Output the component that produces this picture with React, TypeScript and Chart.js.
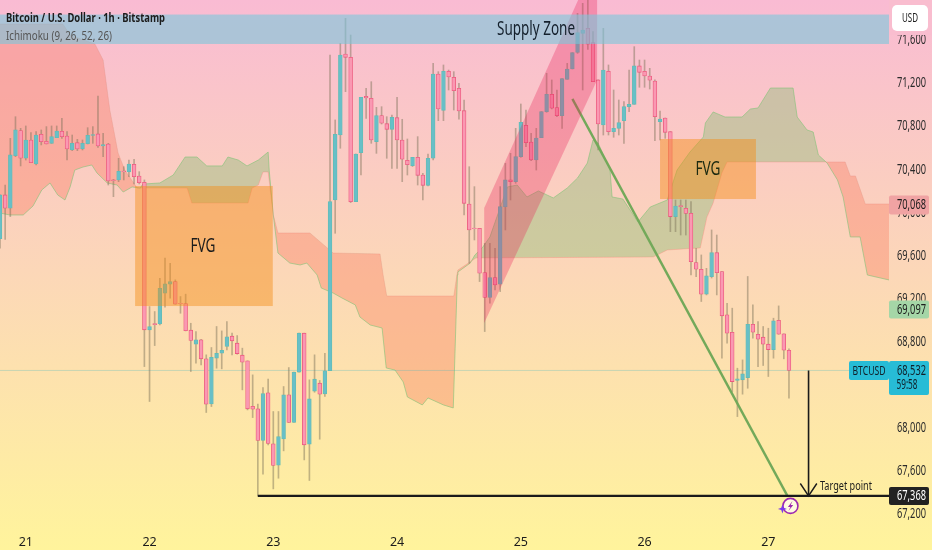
import React, { useEffect, useRef } from "react";
import { Chart, registerables } from "chart.js";

Chart.register(...registerables);

const firstHour = -5;
const opens = [69755,70161,70037,70526,70758,70501,70671,70448,70724,70659,70640,70693,70751,70708,70578,70646,70587,70637,70714,70727,70615,70634,70300,70300,70383,70374,70445,70337,70278,68909,68967,68964,69249,69332,69357,69156,69153,68906,68776,68816,68640,68222,68646,68692,68754,68850,68785,68674,68621,68200,68176,67882,68324,67851,67653,67897,68306,68049,68516,68878,67848,68340,68414,68315,68531,70114,70717,71469,71438,70099,70553,71076,71058,70655,70897,70822,70770,70878,70671,70482,70433,70510,70346,70250,70501,71283,70946,71308,71252,71150,70943,70077,69854,69851,69440,69209,69394,69332,70052,70300,70284,70516,70807,70652,70485,70693,70934,71095,70971,70897,71234,71330,71484,71661,71707,71574,71228,70810,71308,70748,70779,70850,70980,71002,71358,71308,71265,71218,70841,70875,70748,69960,70062,70037,69990,69533,69471,69240,69403,69625,69449,69048,68887,68439,68445,68466,68961,68868,68841,68776,68726,68998,68872,68720];
const highs = [70161,70253,70686,70887,70779,70801,70739,70748,70764,70795,70801,70801,70872,70748,70717,70677,70671,70785,70795,71079,70733,70640,70306,70501,70423,70485,70492,70377,70300,69125,69079,69388,69574,69527,69373,69218,69240,68970,68893,68822,68677,68745,68940,68899,68986,68878,68856,68739,68621,68491,68219,68374,68451,68151,68151,68383,68559,68516,68878,68878,68445,68677,68439,68692,71460,70857,71568,71800,71645,70541,71067,71150,71212,70974,70980,70887,70903,71067,70863,70680,70510,70702,70362,70541,71382,71305,71367,71320,71305,71197,71042,70423,70238,69851,69712,69712,69666,70238,70454,70547,70779,71005,70949,70733,70779,70934,71290,71228,71135,71240,71382,71481,71846,71939,71970,71676,71228,71707,71367,71135,71042,71027,71320,71537,71413,71413,71336,71228,70940,70875,70748,70114,70114,70114,70099,69666,69604,69480,69836,69789,69449,69156,69110,68553,68630,69404,69141,68986,68940,68924,69017,69131,68872,68732];
const lows = [69666,69749,69960,70516,70430,70485,70461,70439,70625,70634,70640,70693,70686,70485,70572,70572,70578,70634,70640,70603,70516,70253,70145,70284,70300,70331,70263,70263,68568,68244,68763,68955,69119,69202,69147,69063,68899,68522,68599,68584,68142,68197,68553,68547,68723,68677,68683,68352,68166,68095,67368,67569,67842,67433,67532,67786,68049,68049,68516,67702,67511,68330,67894,68290,68531,69805,70594,71119,70090,70099,70346,70872,70640,70547,70819,70501,70408,70408,70284,70346,70425,70253,70114,70244,70485,70850,70850,71135,70949,70863,69975,69527,69743,69357,68893,69156,69280,69264,69836,70114,70269,70510,70609,70479,70392,70693,70928,70959,70887,70779,71234,71330,71475,71135,71512,71212,70578,70717,70717,70696,70717,70640,70934,71002,71160,71160,71144,70665,70671,70686,69820,69820,69789,69789,69418,69403,69172,69233,69390,69233,68646,68785,68336,68104,68312,68367,68831,68568,68578,68476,68646,68868,68640,68275];
const closes = [70161,70037,70532,70764,70501,70671,70461,70717,70655,70634,70702,70754,70702,70587,70640,70587,70640,70714,70720,70615,70628,70291,70294,70380,70377,70448,70331,70275,68909,68940,68958,69295,69335,69357,69147,69150,68902,68810,68816,68640,68219,68655,68692,68720,68844,68807,68689,68609,68176,68173,67882,68318,67854,67650,67919,68306,68049,68516,68878,67842,68268,68451,68312,68528,70099,70724,71460,71438,70099,70541,71067,71061,70671,70897,70826,70770,70881,70671,70492,70442,70510,70343,70250,70501,71283,70959,71308,71256,71129,70940,70083,69836,69848,69434,69209,69394,69326,70052,70300,70284,70516,70835,70646,70485,70689,70934,71095,70965,70897,71240,71330,71481,71667,71692,71559,71212,70819,71320,70748,70779,70832,70980,71002,71358,71299,71265,71225,70887,70866,70742,69960,70058,70052,69990,69542,69471,69240,69410,69625,69440,69039,68878,68429,68454,68500,68961,68887,68822,68776,68726,68992,68868,68720,68532];

const spanAHours = [-5,-3.1,-0.5,1.4,3.1,4.7,6.2,7.6,8.6,9.5,11.1,12.8,13.8,15.8,17.7,18.9,20.6,22.2,22.7,26,28.6,30.9,33.2,35.1,38.1,39.2,41.2,42.9,45.1,47,47.2,48,48.9,51.2,53.2,54.5,56.5,57.3,59.6,61.3,63.9,64.8,66.8,69.1,69.9,71.6,73.2,74,76.9,78,81,82.9,83.6,83.7,83.8,86.2,87.1,88.5,90,93.4,95.3,97.2,99.4,102.3,105,107,108.9,110,111,113.3,113.7,115.8,118.7,121.1,124.4,126.3,128.8,131.4,131.8,133.3,135.6,138.9,140.5,142,144.4,148.8,149.6,151.5,152.7,153.7,155.4,157.4,158.5,159.9,161.8,163.2,167.4];
const spanAValues = [69993,69975,69975,70058,70207,70272,70160,70114,70235,70392,70420,70439,70365,70272,70253,70188,70235,70225,70262,70272,70346,70513,70513,70430,70430,70513,70485,70430,70485,70559,70392,69975,69622,69529,69511,69529,69418,69297,69251,69205,69140,69028,68954,68926,68555,68536,68425,68286,68212,68277,68212,68184,69260,69418,69446,69529,69604,69669,69771,70235,70253,70142,70198,70133,70225,70318,70457,70671,70643,70392,70142,70123,69910,70049,70114,70392,70559,70699,70829,70931,70884,70884,70958,70968,71153,71153,70884,70764,70745,70532,70457,70300,70142,69771,69771,69418,69372];
const spanBHours = [-5,7.2,8.6,13.4,15,16.3,17.9,19.2,21.6,22.7,31.3,32.2,43.1,43.9,45.1,46,47,48,48.9,55.1,59.6,68.7,69.3,70,83,83.6,83.8,87.3,121.7,124.4,130.8,132.1,133.3,135,136,158.9,159.9,160.9,162.8,167.4];
const spanBValues = [71747,71747,71645,71562,71413,70949,70550,70392,70225,70225,70225,70086,70086,70225,70253,70374,70374,69975,69808,69808,69622,69613,69418,69223,69223,69418,69464,69576,69585,69650,69669,69956,70086,70365,70467,70467,70337,70337,70077,70077];

const dayHours = [0, 24, 48, 72, 96, 120, 144];
const dayLabels = ["21", "22", "23", "24", "25", "26", "27"];
const priceTicks = [71600,71200,70800,70400,70000,69600,69200,68800,68400,68000,67600,67200];

const lastPrice = 68532;
const targetPrice = 67368;
const trendHours = [106, 147.7];
const trendPrices = [71052, 67368];
const arrowHour = 151.8;
const fvgZones = [
  { from: 21.2, to: 47.9, top: 70244, bottom: 69130 },
  { from: 123, to: 141.6, top: 70680, bottom: 70123 },
];
const supplyZone = { from: -5, to: 167.4, top: 71835, bottom: 71562 };
const channelHours = [88.9, 110.8, 110.8, 88.9];
const channelPrices = [70040, 72360, 71228, 68973];

const TEXT_FONT = '"Noto Sans", sans-serif';

const candleHours = opens.map((_, i) => firstHour + i);
const isUp = opens.map((o, i) => closes[i] >= o);

const overlay = {
  id: "overlay",
  beforeDraw(chart: any) {
    const { ctx, width, height } = chart;
    const g = ctx.createLinearGradient(0, 0, 0, height);
    g.addColorStop(0, "#f9bbd3");
    g.addColorStop(1, "#fff49c");
    ctx.save();
    ctx.fillStyle = g;
    ctx.fillRect(0, 0, width, height);
    ctx.restore();
  },
  afterDatasetsDraw(chart: any) {
    const { ctx, chartArea: a } = chart;
    const X = (h: number) => chart.scales.x.getPixelForValue(h);
    const Y = (p: number) => chart.scales.y.getPixelForValue(p);
    ctx.save();
    ctx.beginPath();
    ctx.rect(a.left, 0, a.right - a.left, a.bottom);
    ctx.clip();
    ctx.fillStyle = "rgba(233,30,85,0.3)";
    ctx.beginPath();
    channelHours.forEach((h, i) => {
      if (i === 0) ctx.moveTo(X(h), Y(channelPrices[i]));
      else ctx.lineTo(X(h), Y(channelPrices[i]));
    });
    ctx.closePath();
    ctx.fill();
    ctx.fillStyle = "rgba(245,140,20,0.45)";
    fvgZones.forEach((z) => {
      ctx.fillRect(X(z.from), Y(z.top), X(z.to) - X(z.from), Y(z.bottom) - Y(z.top));
    });
    ctx.fillStyle = "rgba(120,200,220,0.6)";
    ctx.fillRect(X(supplyZone.from), Y(supplyZone.top), X(supplyZone.to) - X(supplyZone.from), Y(supplyZone.bottom) - Y(supplyZone.top));
    ctx.restore();
  },
  afterDraw(chart: any) {
    const { ctx } = chart;
    const Y = (p: number) => chart.scales.y.getPixelForValue(p);
    const X = (h: number) => chart.scales.x.getPixelForValue(h);
    const text = (s: string, x: number, y: number, font: string, color: string, maxW: number, align: any = "left") => {
      ctx.font = font;
      ctx.fillStyle = color;
      ctx.textAlign = align;
      ctx.textBaseline = "middle";
      ctx.fillText(s, x, y, maxW);
    };
    const box = (x: number, y: number, w: number, h: number, c: string, r = 2) => {
      ctx.fillStyle = c;
      ctx.beginPath();
      ctx.roundRect(x, y, w, h, r);
      ctx.fill();
    };
    ctx.save();
    priceTicks.forEach((p) => {
      text(p.toLocaleString("en-US"), 897, Y(p) + 0.5, `13.5px ${TEXT_FONT}`, "#2a2a2a", 29);
    });
    text("Bitcoin / U.S. Dollar · 1h · Bitstamp", 6, 18, `bold 13px ${TEXT_FONT}`, "#1c1c1c", 159);
    text("Ichimoku (9, 26, 52, 26)", 6, 36, `13px ${TEXT_FONT}`, "#555555", 106);
    text("Supply Zone", 536, 30, `19px ${TEXT_FONT}`, "#14202c", 78, "center");
    text("FVG", 203, 246, `20px ${TEXT_FONT}`, "#1c1c1c", 25, "center");
    text("FVG", 708, 169, `20px ${TEXT_FONT}`, "#1c2a10", 25, "center");
    text("Target point", 820, 486, `12.5px ${TEXT_FONT}`, "#1c1c1c", 52);

    box(889, 0, 43, 35, "#f9bdcf", 0);
    box(892, 5, 36, 26, "#ffffff", 5);
    text("USD", 910, 18, `13px ${TEXT_FONT}`, "#1c1c1c", 16, "center");

    box(889, Y(70068) - 9.5, 40, 19, "#f0a3a3");
    text("70,068", 911.5, Y(70068) + 0.5, `13.5px ${TEXT_FONT}`, "#1c1c1c", 29, "center");
    box(889, Y(69097) - 9, 40, 18, "#a5d6a7");
    text("69,097", 911.5, Y(69097) + 0.5, `13.5px ${TEXT_FONT}`, "#1c1c1c", 29, "center");

    box(849, Y(lastPrice) - 9.5, 40, 19, "#27bcd6");
    text("BTCUSD", 869, Y(lastPrice) + 0.5, `13px ${TEXT_FONT}`, "#10202a", 33, "center");
    box(889, Y(lastPrice) - 9.5, 40, 34, "#27bcd6");
    text("68,532", 911.5, Y(lastPrice) + 0.5, `13.5px ${TEXT_FONT}`, "#10202a", 29, "center");
    text("59:58", 907, Y(lastPrice) + 15, `13.5px ${TEXT_FONT}`, "#10202a", 21, "center");

    box(889, Y(targetPrice) - 9, 40, 18, "#222222");
    text("67,368", 911.5, Y(targetPrice) + 0.5, `13.5px ${TEXT_FONT}`, "#ffffff", 29, "center");

    const cx = X(147.8) + 2.5;
    const cy = Y(targetPrice) + 10;
    ctx.fillStyle = "#fffbe0";
    ctx.strokeStyle = "#9c27b0";
    ctx.lineWidth = 1.6;
    ctx.beginPath();
    ctx.arc(cx, cy, 7.5, 0, Math.PI * 2);
    ctx.fill();
    ctx.stroke();
    ctx.fillStyle = "#9c27b0";
    ctx.beginPath();
    ctx.moveTo(cx + 2, cy - 5);
    ctx.lineTo(cx - 2.5, cy + 1);
    ctx.lineTo(cx, cy + 1);
    ctx.lineTo(cx - 2, cy + 5);
    ctx.lineTo(cx + 2.8, cy - 1);
    ctx.lineTo(cx + 0.3, cy - 1);
    ctx.closePath();
    ctx.fill();
    const sx = cx - 8;
    const sy = cy + 3;
    ctx.fillStyle = "#7c3aed";
    ctx.beginPath();
    ctx.moveTo(sx, sy - 4.5);
    ctx.lineTo(sx + 1.2, sy - 1.2);
    ctx.lineTo(sx + 4.5, sy);
    ctx.lineTo(sx + 1.2, sy + 1.2);
    ctx.lineTo(sx, sy + 4.5);
    ctx.lineTo(sx - 1.2, sy + 1.2);
    ctx.lineTo(sx - 4.5, sy);
    ctx.lineTo(sx - 1.2, sy - 1.2);
    ctx.closePath();
    ctx.fill();
    ctx.restore();
  },
};

const lineBase = { type: "line", pointRadius: 0, tension: 0, fill: false };

export default function App() {
  const ref = useRef<HTMLCanvasElement>(null);
  useEffect(() => {
    document.body.style.margin = "0";
    const chart = new Chart(ref.current as any, {
      type: "bar",
      data: {
        datasets: [
          {
            ...lineBase,
            label: "Senkou A",
            data: spanAHours.map((x, i) => ({ x, y: spanAValues[i] })),
            borderColor: "rgba(130,195,120,0.6)",
            borderWidth: 1,
            fill: { target: "+1", above: "rgba(129,187,112,0.38)", below: "rgba(250,103,73,0.3)" },
            order: 20,
          },
          {
            ...lineBase,
            label: "Senkou B",
            data: spanBHours.map((x, i) => ({ x, y: spanBValues[i] })),
            borderColor: "rgba(240,120,110,0.25)",
            borderWidth: 1,
            order: 19,
          },
          {
            ...lineBase,
            label: "Last",
            data: [{ x: firstHour, y: lastPrice }, { x: 167.4, y: lastPrice }],
            borderColor: "rgba(60,180,190,0.28)",
            borderWidth: 1,
            order: 15,
          },
          {
            label: "Wick",
            data: candleHours.map((x, i) => ({ x, y: [lows[i], highs[i]] })),
            backgroundColor: "rgba(125,115,90,0.48)",
            barThickness: 1,
            grouped: false,
            order: 5,
          },
          {
            label: "Body",
            data: candleHours.map((x, i) => ({ x, y: [opens[i], closes[i]] })),
            backgroundColor: isUp.map((u) => (u ? "#68bfc8" : "#fa98b2")),
            borderColor: isUp.map((u) => (u ? "#62bdb4" : "#ec5a7e")),
            borderWidth: 0.8,
            borderSkipped: false,
            barThickness: 3.8,
            grouped: false,
            order: 4,
          },
          {
            ...lineBase,
            label: "Trend",
            data: trendHours.map((x, i) => ({ x, y: trendPrices[i] })),
            borderColor: "#73a95a",
            borderWidth: 2.4,
            order: 3,
          },
          {
            ...lineBase,
            label: "Target",
            data: [{ x: 45, y: targetPrice }, { x: 167.4, y: targetPrice }],
            borderColor: "#1a1a1a",
            borderWidth: 2.2,
            order: 2,
          },
          {
            ...lineBase,
            label: "Arrow",
            data: [{ x: arrowHour, y: lastPrice }, { x: arrowHour, y: targetPrice }],
            borderColor: "#1a1a1a",
            borderWidth: 1.6,
            order: 1,
          },
          {
            ...lineBase,
            label: "Arrow head",
            data: [
              { x: arrowHour - 1.6, y: targetPrice + 115 },
              { x: arrowHour, y: targetPrice },
              { x: arrowHour + 1.6, y: targetPrice + 115 },
            ],
            borderColor: "#1a1a1a",
            borderWidth: 1.4,
            order: 1,
          },
        ] as any,
      },
      options: {
        responsive: false,
        animation: false,
        devicePixelRatio: 1,
        layout: { padding: 0, autoPadding: false },
        plugins: { legend: { display: false }, tooltip: { enabled: false }, title: { display: false } },
        scales: {
          x: {
            type: "linear",
            min: firstHour,
            max: 167.4,
            offset: false,
            grid: { display: false },
            border: { display: false },
            afterBuildTicks: (s: any) => {
              s.ticks = dayHours.map((value) => ({ value }));
            },
            afterFit: (s: any) => {
              s.height = 29;
            },
            ticks: {
              autoSkip: false,
              maxRotation: 0,
              padding: 6,
              color: "#1c1c1c",
              font: { family: TEXT_FONT, size: 12.5 },
              callback: (v: any) => dayLabels[dayHours.indexOf(Number(v))] ?? "",
            },
          },
          y: {
            type: "linear",
            position: "right",
            min: 67135,
            max: 71970,
            grid: { display: false },
            border: { display: false },
            afterBuildTicks: (s: any) => {
              s.ticks = priceTicks.map((value) => ({ value }));
            },
            afterFit: (s: any) => {
              s.width = 43;
            },
            ticks: { display: false },
          },
        },
      } as any,
      plugins: [overlay],
    });
    return () => chart.destroy();
  }, []);
  return <canvas ref={ref} width={932} height={550} style={{ display: "block" }} />;
}
